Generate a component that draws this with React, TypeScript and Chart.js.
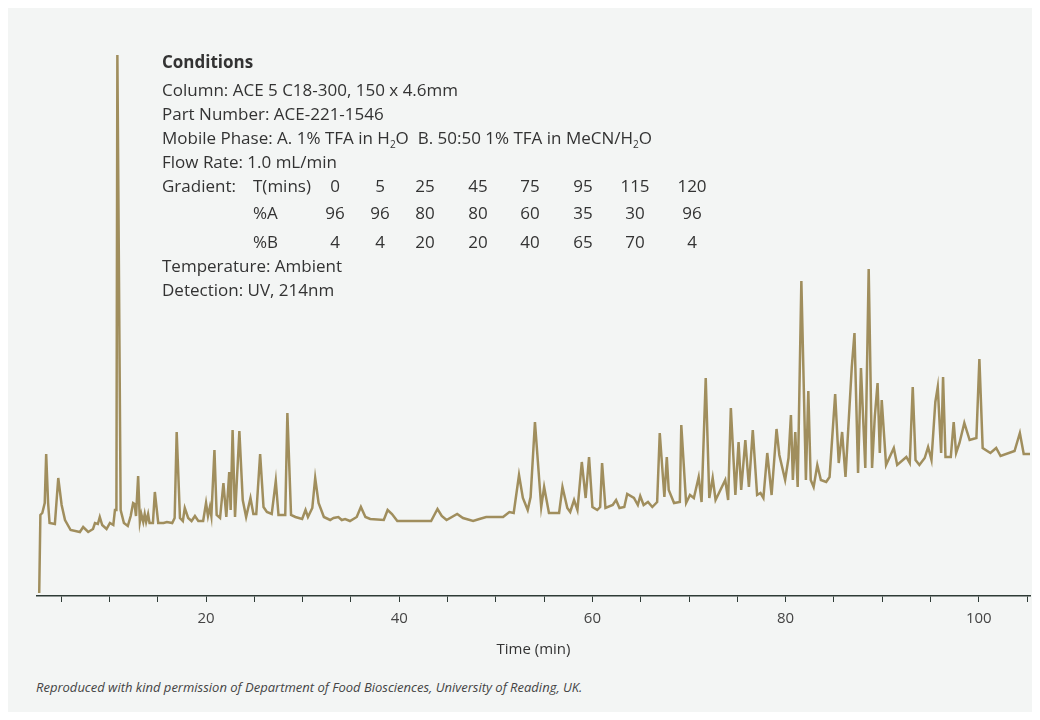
import React, { useEffect, useRef } from "react";
import { Chart, registerables } from "chart.js";
Chart.register(...registerables);

const times = [2.73,2.85,3.05,3.3,3.45,3.65,3.8,4.35,4.7,5.05,5.4,5.98,6.94,7.28,7.8,8.3,8.5,8.8,9.0,9.25,9.7,10.05,10.4,10.57,10.72,10.82,11.16,11.5,11.9,12.2,12.45,12.6,12.75,12.97,13.15,13.3,13.5,13.65,13.8,14.0,14.15,14.5,14.7,15.05,15.6,15.95,16.5,16.75,16.96,17.3,17.6,17.8,18.15,18.5,18.85,19.2,19.7,20.0,20.2,20.4,20.55,20.87,21.1,21.45,21.8,22.1,22.4,22.55,22.75,23.0,23.45,23.8,24.15,24.6,24.9,25.2,25.6,25.95,26.3,26.8,27.22,27.5,28.2,28.42,28.8,29.25,29.95,30.3,30.55,31.0,31.3,31.65,32.2,32.85,33.2,33.7,34.05,34.4,34.9,35.6,36.03,36.5,37.0,38.4,38.8,39.25,39.8,43.3,43.96,44.4,44.9,46.0,46.6,47.65,48.3,49.0,50.75,51.4,51.85,52.4,52.8,53.3,53.6,54.05,54.7,55.0,55.5,56.55,56.9,57.4,57.7,58.1,58.45,58.9,59.3,59.65,60.0,60.5,60.8,61.0,61.35,62.1,62.45,62.8,63.3,63.6,64.3,64.7,64.95,65.3,65.75,66.2,66.7,66.97,67.45,67.7,67.9,68.45,69.05,69.2,69.7,70.1,70.5,71.0,71.3,71.73,72.1,72.45,72.75,73.1,73.75,74.05,74.33,74.8,75.13,75.4,75.83,76.2,76.6,77.05,77.4,77.7,78.1,78.55,79.06,79.35,79.95,80.3,80.55,80.75,81.0,81.25,81.63,82.1,82.35,82.6,82.9,83.28,83.65,84.2,84.55,85.13,85.5,85.85,86.2,86.85,87.13,87.5,87.8,88.25,88.6,88.95,89.23,89.52,89.75,89.95,90.4,91.2,91.55,92.5,92.85,93.16,93.45,93.85,94.4,94.75,95.1,95.5,95.75,96.1,96.3,96.55,97.1,97.4,97.65,98.0,98.5,99.05,99.75,100.06,100.4,101.2,101.8,102.25,103.7,104.25,104.65,105.4];
const signal = [3,81,83,93,142,93,73,72,118,91,76,66,64,69,64,67,73,72,79,71,67,73,71,86,86,541,86,73,70,80,93,92,80,120,74,82,74,82,74,82,73,73,104,73,73,74,73,78,164,78,75,88,78,75,80,75,75,93,80,89,80,146,81,78,113,79,124,86,166,79,165,96,79,98,82,82,142,89,84,82,115,81,81,183,81,79,77,86,79,88,118,93,79,76,78,79,76,77,75,79,89,79,77,76,86,82,75,75,87,80,76,82,78,75,77,79,79,84,83,121,98,86,99,174,89,109,83,83,109,88,84,96,86,134,98,139,89,86,89,133,88,91,96,88,89,102,98,91,100,91,94,89,94,163,99,139,106,93,94,171,93,101,98,119,94,218,98,118,96,103,116,96,188,101,154,106,156,109,166,101,103,98,143,101,167,141,116,138,181,116,164,109,315,116,205,116,109,131,116,114,119,202,133,164,119,229,263,123,228,128,327,128,179,213,143,196,131,148,131,139,133,209,136,131,138,149,136,194,209,143,219,139,139,174,143,153,173,156,158,237,148,143,148,140,145,163,142,142];
const xTickValues = [5,10,15,20,25,30,35,40,45,50,55,60,65,70,75,80,85,90,95,100,105];
const gradT = ["0","5","25","45","75","95","115","120"];
const gradA = ["96","96","80","80","60","35","30","96"];
const gradB = ["4","4","20","20","40","65","70","4"];
const gradX = [335,380,425,478,530,583,635,692];

const font = "'Open Sans', sans-serif";

export default function App() {
  const ref = useRef<HTMLCanvasElement>(null);
  useEffect(() => {
    const c = new Chart(ref.current!, {
      type: "line",
      data: {
        datasets: [{
          data: times.map((t, i) => ({ x: t, y: signal[i] })),
          borderColor: "#a08e5d",
          borderWidth: 2.5,
          pointRadius: 0,
          tension: 0,
        }],
      },
      options: {
        animation: false,
        responsive: false,
        plugins: { legend: { display: false }, tooltip: { enabled: false } },
        layout: { padding: { left: 29, right: 10, top: 38, bottom: 0 } },
        scales: {
          x: {
            type: "linear",
            min: 2.5,
            max: 105.3,
            afterBuildTicks: (ax: any) => { ax.ticks = xTickValues.map((v) => ({ value: v })); },
            ticks: {
              autoSkip: false,
              maxRotation: 0,
              padding: 8,
              color: "#444",
              font: { family: font, size: 15 },
              callback: (v: any) => (Number(v) % 20 === 0 ? String(v) : ""),
            },
            grid: { drawOnChartArea: false, drawTicks: true, tickLength: 6, color: "#2e3b36" },
            border: { color: "#2e3b36", width: 1.5 },
            title: { display: true, text: "Time (min)", color: "#333", font: { family: font, size: 15 }, padding: { top: 5 } },
          },
          y: { display: false, min: 0, max: 550 },
        },
      },
    });
    return () => c.destroy();
  }, []);
  const line = (top: number, content: React.ReactNode, bold = false) => (
    <div style={{ position: "absolute", left: 154, top, fontWeight: bold ? 700 : 400 }}>{content}</div>
  );
  const row = (top: number, label: string, vals: string[]) => (
    <>
      <div style={{ position: "absolute", left: 245, top }}>{label}</div>
      {vals.map((v, i) => (
        <div key={i} style={{ position: "absolute", left: gradX[i] - 8 - 30, width: 60, textAlign: "center", top }}>{v}</div>
      ))}
    </>
  );
  return (
    <div style={{ position: "relative", width: 1032, height: 704, background: "#f3f5f4", fontFamily: font, color: "#333", fontSize: 17, lineHeight: "22px" }}>
      <canvas ref={ref} width={1032} height={655} style={{ position: "absolute", left: 0, top: 0 }} />
      {line(43, "Conditions", true)}
      {line(71, "Column: ACE 5 C18-300, 150 x 4.6mm")}
      {line(95, "Part Number: ACE-221-1546")}
      {line(119, <>Mobile Phase: A. 1% TFA in H<sub style={{ fontSize: 10, lineHeight: 0 }}>2</sub>O&nbsp; B. 50:50 1% TFA in MeCN/H<sub style={{ fontSize: 10, lineHeight: 0 }}>2</sub>O</>)}
      {line(143, "Flow Rate: 1.0 mL/min")}
      {line(167, "Gradient:")}
      {row(167, "T(mins)", gradT)}
      {row(194, "%A", gradA)}
      {row(223, "%B", gradB)}
      {line(247, "Temperature: Ambient")}
      {line(271, "Detection: UV, 214nm")}
      <div style={{ position: "absolute", left: 28, top: 671, fontSize: 13, fontStyle: "italic", color: "#444", lineHeight: "16px" }}>
        Reproduced with kind permission of Department of Food Biosciences, University of Reading, UK.
      </div>
    </div>
  );
}
